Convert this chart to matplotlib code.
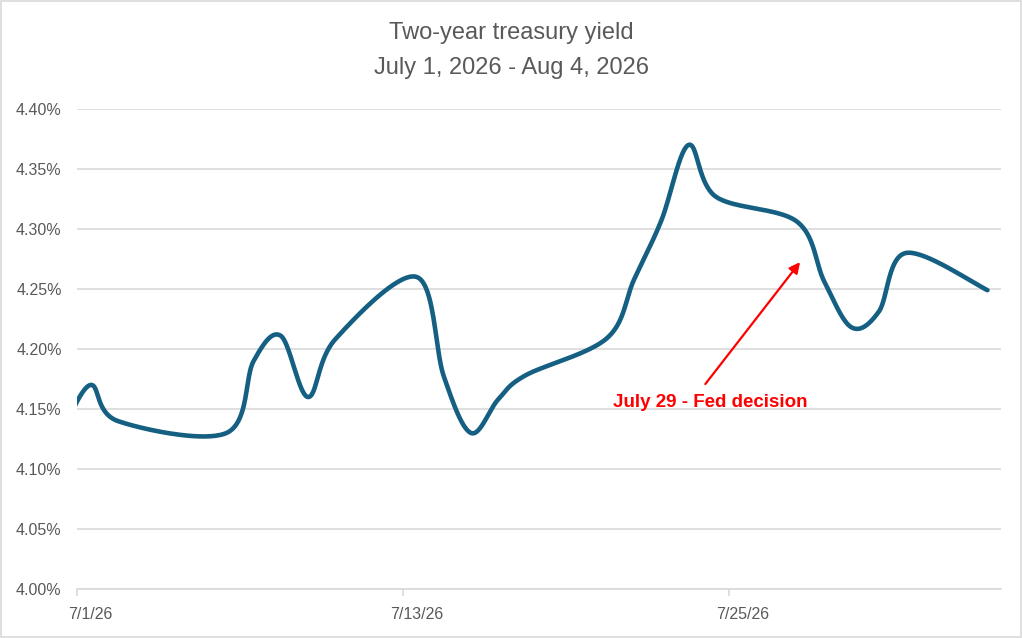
"""Two-year treasury yield, July 2026, with Excel-style smoothed line."""
import datetime as dt

import matplotlib
matplotlib.use("Agg")
import matplotlib.dates as mdates
import matplotlib.pyplot as plt
import numpy as np
from matplotlib.patches import Rectangle
from matplotlib.ticker import FuncFormatter, MultipleLocator

# trading days (6/30 sits just left of the axis and is clipped, as in Excel)
dates = ["2026-06-30", "2026-07-01", "2026-07-02", "2026-07-06", "2026-07-07",
         "2026-07-08", "2026-07-09", "2026-07-10", "2026-07-13", "2026-07-14",
         "2026-07-15", "2026-07-16", "2026-07-17", "2026-07-20", "2026-07-21",
         "2026-07-22", "2026-07-23", "2026-07-24", "2026-07-27", "2026-07-28",
         "2026-07-29", "2026-07-30", "2026-07-31", "2026-08-03"]
yields = [4.133, 4.170, 4.140, 4.130, 4.190,
          4.211, 4.160, 4.208, 4.260, 4.177,
          4.130, 4.158, 4.178, 4.209, 4.258,
          4.307, 4.370, 4.327, 4.306, 4.256,
          4.218, 4.231, 4.280, 4.249]
tick_dates = ["2026-07-01", "2026-07-13", "2026-07-25"]
axis_start, axis_end = "2026-07-01", "2026-08-04"

LINE = "#156082"
GRID = "#d9d9d9"
TEXT = "#595959"

plt.rcParams["font.family"] = ["Liberation Sans", "DejaVu Sans"]


def day_num(s):
    return mdates.date2num(dt.datetime.fromisoformat(s))


def excel_smooth(x, y, steps=40):
    """Bezier through every point, control points as Excel's smoothed line."""
    pts = np.column_stack([x, y])
    padded = np.vstack([pts[:1], pts, pts[-1:]])
    out = []
    t = np.linspace(0, 1, steps)[:, None]
    for i in range(len(pts) - 1):
        p0, p3 = padded[i + 1], padded[i + 2]
        c1 = p0 + (padded[i + 2] - padded[i]) / 6
        c2 = p3 - (padded[i + 3] - padded[i + 1]) / 6
        seg = ((1 - t) ** 3 * p0 + 3 * (1 - t) ** 2 * t * c1
               + 3 * (1 - t) * t ** 2 * c2 + t ** 3 * p3)
        out.append(seg if i == 0 else seg[1:])
    curve = np.vstack(out)
    return curve[:, 0], curve[:, 1]


# each day is a slot; the point sits in the middle of its slot
x = np.array([day_num(d) + 0.5 for d in dates])
sx, sy = excel_smooth(x, np.array(yields))

fig = plt.figure(figsize=(10.22, 6.38), dpi=100)
ax = fig.add_axes([0.0753, 0.0768, 0.9042, 0.7524])
ax.plot(sx, sy, color=LINE, lw=3.3, solid_capstyle="round", zorder=3)

ax.set_xlim(day_num(axis_start), day_num(axis_end))
ax.set_ylim(4.00, 4.40)
ax.yaxis.set_major_locator(MultipleLocator(0.05))
ax.yaxis.set_major_formatter(FuncFormatter(lambda v, _: f"{v:.2f}%"))
ax.grid(axis="y", color=GRID, lw=1.2)
ax.set_axisbelow(True)

ax.set_xticks([day_num(d) for d in tick_dates])
ax.set_xticklabels([])
ax.set_xticks([day_num(d) + 0.5 for d in tick_dates], minor=True)
ax.set_xticklabels([f"{int(d[5:7])}/{int(d[8:])}/{d[2:4]}" for d in tick_dates],
                   minor=True)
ax.tick_params(axis="x", which="major", length=5, color=GRID, width=1.2)
ax.tick_params(axis="x", which="minor", length=0, pad=13, labelsize=11.5,
               labelcolor=TEXT)
ax.tick_params(axis="y", length=0, pad=11, labelsize=11.5, labelcolor=TEXT)

for side in ("left", "right", "top"):
    ax.spines[side].set_visible(False)
ax.spines["bottom"].set_color(GRID)
ax.spines["bottom"].set_linewidth(1.2)

fig.text(0.5, 0.921, "Two-year treasury yield\nJuly 1, 2026 - Aug 4, 2026",
         ha="center", va="center", fontsize=17, color=TEXT, linespacing=1.75)

ax.annotate("", xy=(0.7825, 0.681), xytext=(0.68, 0.427),
            xycoords="axes fraction",
            arrowprops=dict(arrowstyle="-|>", color="red", lw=1.6,
                            mutation_scale=16, shrinkA=0, shrinkB=0))
ax.text(0.685, 0.3875, "July 29 - Fed decision", transform=ax.transAxes,
        ha="center", va="center", fontsize=13.5, fontweight="bold", color="red")

fig.patches.append(Rectangle((0.001, 0.0015), 0.998, 0.997,
                             transform=fig.transFigure, fill=False,
                             edgecolor=GRID, lw=1.2))

fig.savefig("out.png", dpi=100)
